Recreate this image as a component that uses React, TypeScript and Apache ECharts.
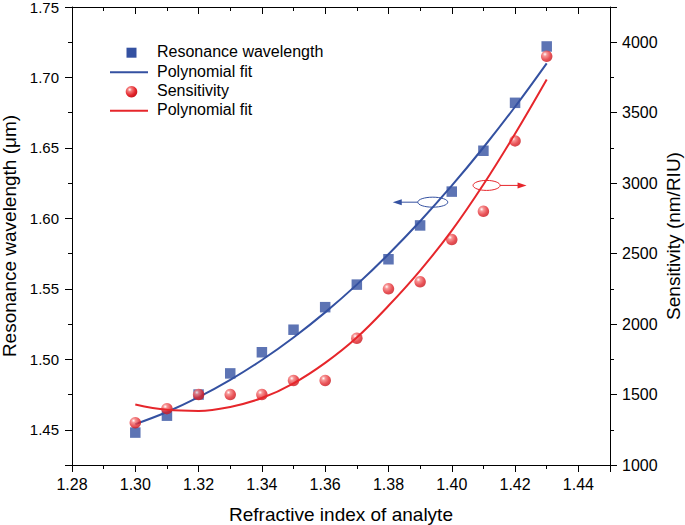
import React, { useEffect, useRef } from "react";
import * as echarts from "echarts";

// ---------- data ----------
const refractiveIndex = [1.3, 1.31, 1.32, 1.33, 1.34, 1.35, 1.36, 1.37, 1.38, 1.39, 1.4, 1.41, 1.42, 1.43];
const resonanceWavelength = [1.448, 1.46, 1.475, 1.49, 1.505, 1.521, 1.537, 1.553, 1.571, 1.595, 1.619, 1.648, 1.682, 1.722];
const wavelengthFit = [1.454, 1.4626, 1.4731, 1.4854, 1.4995, 1.5155, 1.5333, 1.553, 1.5746, 1.598, 1.6232, 1.6503, 1.6792, 1.71];
const sensitivity = [1300, 1400, 1500, 1500, 1500, 1600, 1600, 1900, 2250, 2300, 2600, 2800, 3300, 3900];
const sensitivityFit = [1430, 1392, 1384, 1412, 1475, 1580, 1725, 1905, 2130, 2380, 2663, 2990, 3350, 3735];

const legendLabels = ["Resonance wavelength", "Polynomial fit", "Sensitivity", "Polynomial fit"];
const xAxisTitle = "Refractive index of analyte";
const leftAxisTitle = "Resonance wavelength (\u03bcm)";
const rightAxisTitle = "Sensitivity (nm/RIU)";

// annotation anchors (data coordinates)
const blueEllipseAt = [1.394, 1.6115];
const redEllipseAt = [1.411, 2984];

const BLUE = "#3451a1";
const RED = "#e6262b";
const FONT = "'Liberation Sans', Arial, sans-serif";

export default function App() {
  const ref = useRef<HTMLDivElement>(null);

  useEffect(() => {
    if (!ref.current) return;
    const chart = echarts.init(ref.current, undefined, { renderer: "svg" });

    const sphere = new echarts.graphic.RadialGradient(0.35, 0.32, 0.7, [
      { offset: 0, color: "#ffffff" },
      { offset: 0.25, color: "#f47a7a" },
      { offset: 0.7, color: "#e3262c" },
      { offset: 1, color: "#c8161d" },
    ]);

    const pairs = (ys: number[]) => refractiveIndex.map((x, i) => [x, ys[i]]);

    const axisLineStyle = { color: "#000", width: 1 };
    const labelStyle = { color: "#000", fontFamily: FONT };

    chart.setOption({
      animation: false,
      backgroundColor: "#fff",
      grid: { left: 72, right: 75, top: 7, bottom: 60, containLabel: false, outerBoundsMode: "none" },
      xAxis: [
        {
          type: "value",
          min: 1.28,
          max: 1.45,
          interval: 0.02,
          name: xAxisTitle,
          nameLocation: "middle",
          nameGap: 40,
          nameTextStyle: { color: "#000", fontSize: 19, fontFamily: FONT },
          axisLine: { show: true, lineStyle: axisLineStyle },
          axisTick: { show: true, length: 7, lineStyle: axisLineStyle },
          minorTick: { show: true, splitNumber: 2, length: 4, lineStyle: axisLineStyle },
          axisLabel: {
            ...labelStyle,
            fontSize: 16,
            margin: 11,
            showMaxLabel: false,
            formatter: (v: number) => v.toFixed(2),
          },
          splitLine: { show: false },
        },
        {
          type: "value",
          position: "top",
          min: 1.28,
          max: 1.45,
          interval: 0.02,
          axisLine: { show: true, lineStyle: axisLineStyle },
          axisTick: { show: true, inside: true, length: 7, lineStyle: axisLineStyle },
          minorTick: { show: true, splitNumber: 2, length: 4, lineStyle: axisLineStyle },
          axisLabel: { show: false },
          splitLine: { show: false },
        },
      ],
      yAxis: [
        {
          type: "value",
          min: 1.425,
          max: 1.75,
          splitNumber: 6,
          name: leftAxisTitle,
          nameLocation: "middle",
          nameGap: 51,
          nameRotate: 90,
          nameTextStyle: { color: "#000", fontSize: 19, fontFamily: FONT },
          axisLine: { show: true, lineStyle: axisLineStyle },
          axisTick: { show: true, length: 7, lineStyle: axisLineStyle },
          minorTick: { show: true, splitNumber: 2, length: 4, lineStyle: axisLineStyle },
          axisLabel: {
            ...labelStyle,
            fontSize: 15,
            margin: 13,
            showMinLabel: false,
            formatter: (v: number) => v.toFixed(2),
          },
          splitLine: { show: false },
        },
        {
          type: "value",
          position: "right",
          min: 1000,
          max: 4250,
          interval: 500,
          name: rightAxisTitle,
          nameLocation: "middle",
          nameGap: 54,
          nameMoveOverlap: false,
          nameRotate: 90,
          nameTextStyle: { color: "#000", fontSize: 19, fontFamily: FONT },
          axisLine: { show: true, lineStyle: axisLineStyle },
          axisTick: { show: true, length: 7, lineStyle: axisLineStyle },
          minorTick: { show: true, splitNumber: 2, length: 4, lineStyle: axisLineStyle },
          axisLabel: {
            ...labelStyle,
            fontSize: 16,
            margin: 12,
            showMaxLabel: false,
            formatter: (v: number) => String(Math.round(v)),
          },
          splitLine: { show: false },
        },
      ],
      series: [
        {
          name: legendLabels[0],
          type: "scatter",
          xAxisIndex: 0,
          yAxisIndex: 0,
          symbol: "rect",
          symbolSize: 10.5,
          itemStyle: { color: BLUE },
          data: pairs(resonanceWavelength),
          z: 2,
        },
        {
          name: "wavelengthFit",
          type: "line",
          xAxisIndex: 0,
          yAxisIndex: 0,
          smooth: 0.4,
          showSymbol: false,
          symbol: "none",
          lineStyle: { color: BLUE, width: 2 },
          data: pairs(wavelengthFit),
          z: 3,
        },
        {
          name: legendLabels[2],
          type: "scatter",
          xAxisIndex: 0,
          yAxisIndex: 1,
          symbol: "circle",
          symbolSize: 11.5,
          itemStyle: { color: sphere },
          data: pairs(sensitivity),
          z: 4,
        },
        {
          name: "sensitivityFit",
          type: "line",
          xAxisIndex: 0,
          yAxisIndex: 1,
          smooth: 0.4,
          showSymbol: false,
          symbol: "none",
          lineStyle: { color: RED, width: 2 },
          data: pairs(sensitivityFit),
          z: 5,
        },
      ],
    });

    // legend + annotations
    const lx = 110;
    const ly = [52.7, 72.3, 91.7, 110.7];
    const textX = 157;
    const legendText = legendLabels.map((t, i) => ({
      type: "text",
      left: textX,
      top: ly[i] - 9,
      style: { text: t, fill: "#000", font: `16px ${FONT}` },
    }));

    const b = chart.convertToPixel({ xAxisIndex: 0, yAxisIndex: 0 }, blueEllipseAt) as number[];
    const r = chart.convertToPixel({ xAxisIndex: 0, yAxisIndex: 1 }, redEllipseAt) as number[];

    chart.setOption({
      graphic: [
        {
          type: "rect",
          shape: { x: lx + 21.5 - 5, y: ly[0] - 5, width: 10, height: 10 },
          style: { fill: BLUE },
        },
        {
          type: "line",
          shape: { x1: lx, y1: ly[1], x2: lx + 38, y2: ly[1] },
          style: { stroke: BLUE, lineWidth: 2 },
        },
        {
          type: "circle",
          shape: { cx: lx + 21.5, cy: ly[2], r: 5.8 },
          style: { fill: sphere },
        },
        {
          type: "line",
          shape: { x1: lx, y1: ly[3], x2: lx + 38, y2: ly[3] },
          style: { stroke: RED, lineWidth: 2 },
        },
        ...legendText,
        {
          type: "ellipse",
          shape: { cx: b[0], cy: b[1], rx: 15, ry: 5 },
          style: { fill: "none", stroke: BLUE, lineWidth: 1 },
        },
        {
          type: "line",
          shape: { x1: b[0] - 15, y1: b[1], x2: b[0] - 33, y2: b[1] },
          style: { stroke: BLUE, lineWidth: 1 },
        },
        {
          type: "polygon",
          shape: { points: [[b[0] - 40, b[1]], [b[0] - 31, b[1] - 3], [b[0] - 31, b[1] + 3]] },
          style: { fill: BLUE },
        },
        {
          type: "ellipse",
          shape: { cx: r[0], cy: r[1], rx: 13.5, ry: 5 },
          style: { fill: "none", stroke: RED, lineWidth: 1 },
        },
        {
          type: "line",
          shape: { x1: r[0] + 13.5, y1: r[1], x2: r[0] + 33, y2: r[1] },
          style: { stroke: RED, lineWidth: 1 },
        },
        {
          type: "polygon",
          shape: { points: [[r[0] + 40, r[1]], [r[0] + 31, r[1] - 3], [r[0] + 31, r[1] + 3]] },
          style: { fill: RED },
        },
      ],
    });

    return () => chart.dispose();
  }, []);

  return (
    <div
      ref={ref}
      style={{ position: "fixed", left: 0, top: 0, width: 685, height: 525, background: "#fff" }}
    />
  );
}
